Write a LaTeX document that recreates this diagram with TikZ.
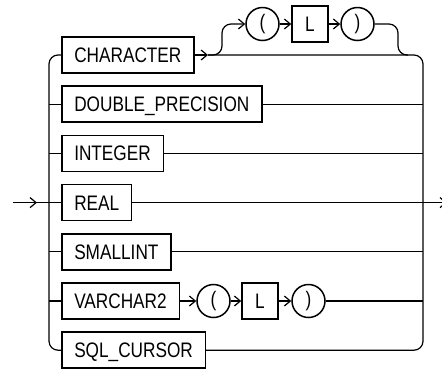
\documentclass[tikz,border=0pt]{standalone}
\usepackage{fontspec}
\setmainfont{Liberation Sans}[FakeStretch=0.82]
\usetikzlibrary{arrows.meta,decorations.markings,calc}
\begin{document}
\begin{tikzpicture}[x=1pt,y=-1pt,
  every node/.style={font=\fontsize{21}{25}\selectfont},
  kw/.style={draw, line width=1.5pt, minimum height=36pt, inner xsep=12.5pt, inner ysep=0pt, text height=15pt, text depth=0pt, anchor=west},
  lit/.style={draw, circle, line width=1.5pt, minimum size=33pt, inner sep=0pt},
  lbox/.style={draw, line width=1.5pt, minimum width=36pt, minimum height=36pt, inner sep=0pt, text height=15pt, text depth=0pt},
  ln/.style={line width=1.2pt},
  tip/.tip={Straight Barb[length=6pt,width=10pt]},
  ar/.style={ln, -tip},
  rc/.style={rounded corners=9pt}]
\useasboundingbox (0,0) rectangle (442,368);
% keywords
\node[kw] (ch) at (61,55) {CHARACTER};
\node[kw] (dp) at (61,104.2) {DOUBLE\_PRECISION};
\node[kw] (in) at (61,153.4) {INTEGER};
\node[kw] (re) at (61,202.6) {REAL};
\node[kw] (sm) at (61,251.8) {SMALLINT};
\node[kw] (vc) at (61,301) {VARCHAR2};
\node[kw] (sq) at (61,350.2) {SQL\_CURSOR};
% optional length for CHARACTER
\node[lit] (lp1) at (262.5,24) {(};
\node[lbox] (l1) at (310,24) {L};
\node[lit] (rp1) at (357.5,24) {)};
% length for VARCHAR2
\node[lit] (lp2) at (213.5,301) {(};
\node[lbox] (l2) at (260,301) {L};
\node[lit] (rp2) at (308.5,301) {)};
% coordinates
\coordinate (start) at (13,202.6);
\coordinate (finish) at (447,202.6);
\coordinate (bl) at (49,202.6);
\coordinate (br) at (423,202.6);
\coordinate (split) at (208,55);
\coordinate (merge) at (408,55);
\coordinate (drop) at (398,55);
% entry
\draw[ln, postaction={decorate}, decoration={markings, mark=at position 24pt with {\arrow{tip}}}] (start) -- (re.west);
% left bus
\draw[ln, rc] (ch.west) -| (bl) |- (sq.west);
\foreach \n in {dp,in,sm,vc} \draw[ln] (bl |- \n.west) -- (\n.west);
% right bus
\draw[ar] (ch.east) -- (split);
\draw[ln, rc] (split) -| (br) |- (sq.east);
\foreach \n in {dp,in,sm,rp2} \draw[ln] (\n.east) -- (br |- \n.east);
\draw[ln] (re.east) -- (br);
\draw[ar] (br) -- (finish);
% CHARACTER bypass
\draw[ar, rc] (split) -- ++(14,0) |- (lp1.west);
\draw[ar] (lp1) -- (l1);
\draw[ar] (l1) -- (rp1);
\draw[ln, rc] (rp1.east) -| (drop) -- (merge);
% VARCHAR2
\draw[ar] (vc) -- (lp2);
\draw[ar] (lp2) -- (l2);
\draw[ar] (l2) -- (rp2);
\end{tikzpicture}
\end{document}
